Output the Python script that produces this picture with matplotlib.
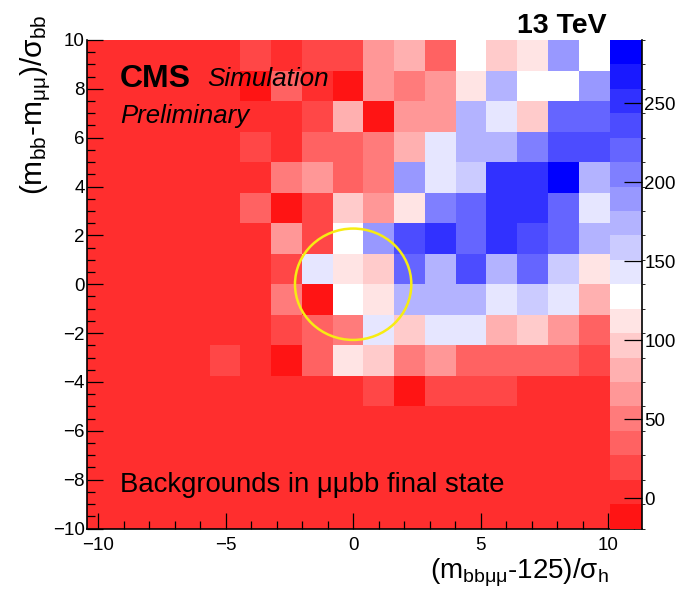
import numpy as np
import matplotlib.pyplot as plt
from matplotlib.colors import LinearSegmentedColormap, ListedColormap, BoundaryNorm
from matplotlib.patches import Circle
from matplotlib.ticker import MultipleLocator

plt.rcParams['font.family'] = ['Liberation Sans', 'DejaVu Sans']
plt.rcParams['mathtext.fontset'] = 'custom'
plt.rcParams['mathtext.rm'] = 'Liberation Sans'
plt.rcParams['mathtext.it'] = 'Liberation Sans:italic'
plt.rcParams['mathtext.bf'] = 'Liberation Sans:bold'

# ===============================
# Binning and palette range
# ===============================
x_lo, x_hi, n_xbins = -10.45, 10.05, 17
y_lo, y_hi, n_ybins = -10.0, 10.0, 16

z_min, z_max, n_levels = -19.0, 290.0, 20
z_ticks = [0, 50, 100, 150, 200, 250]

# bin contents, top row (y 8.75..10) first, columns left -> right
counts_rows = [
    [0, 0, 0, 0, 0, 20, 0, 20, 20, 66, 81, 35, 128, 97, 112, 190, 128],
    [0, 0, 0, 0, 0, -10, 30, 0, -10, 66, 50, 66, 112, 174, 128, 128, 190],
    [0, 0, 0, 0, 0, 0, 0, 20, 81, -10, 66, 66, 174, 143, 97, 220, 220],
    [0, 0, 0, 0, 0, 20, 0, 35, 35, 50, 81, 143, 174, 174, 205, 236, 236],
    [0, 0, 0, 0, 0, 0, 50, 66, 35, 50, 190, 143, 159, 251, 251, 282, 174],
    [0, 0, 0, 0, 0, 35, -10, 20, 97, 66, 112, 205, 220, 251, 251, 220, 143],
    [0, 0, 0, 0, 0, 0, 66, 20, 128, 190, 236, 251, 220, 251, 236, 220, 174],
    [0, 0, 0, 0, 0, 0, 20, 143, 112, 97, 220, 174, 236, 174, 220, 159, 112],
    [0, 0, 0, 0, 0, 0, 50, -10, 128, 112, 174, 174, 174, 143, 159, 143, 81],
    [0, 0, 0, 0, 0, 0, 20, 35, 50, 143, 97, 143, 143, 81, 97, 66, 35],
    [0, 0, 0, 0, 25, 0, -10, 35, 112, 97, 50, 66, 35, 35, 35, 35, 20],
    [0, 0, 0, 0, 0, 0, 0, 0, 0, 20, -10, 20, 20, 20, 0, 0, 0],
    [0] * 17,
    [0] * 17,
    [0] * 17,
    [0] * 17,
]

# signal region circle
circle_center = (0.0, 0.0)
circle_radius = 2.28

# ===============================
# Colours: red -> white -> blue, 20 levels
# ===============================
base = LinearSegmentedColormap.from_list(
    "rwb", [(0.0, (1.0, 0.08, 0.08)), (9 / 19, (1.0, 1.0, 1.0)), (1.0, (0.0, 0.0, 1.0))])
cmap = ListedColormap(base(np.linspace(0, 1, n_levels)))
levels = np.linspace(z_min, z_max, n_levels + 1)
norm = BoundaryNorm(levels, n_levels)

x_edges = np.linspace(x_lo, x_hi, n_xbins + 1)
y_edges = np.linspace(y_lo, y_hi, n_ybins + 1)
z = np.array(counts_rows, dtype=float)[::-1]

# ===============================
# Figure
# ===============================
W, H = 696, 593
fig = plt.figure(figsize=(W / 100, H / 100), dpi=100)

ax_left, ax_right, ax_top, ax_bot = 87.3, 641.7, 40.0, 528.5
ax = fig.add_axes([ax_left / W, 1 - ax_bot / H, (ax_right - ax_left) / W, (ax_bot - ax_top) / H])

mesh = ax.pcolormesh(x_edges, y_edges, z, cmap=cmap, norm=norm, antialiased=False, linewidth=0)
ax.add_patch(Circle(circle_center, circle_radius, fill=False, edgecolor="#f7ec12", lw=1.8, zorder=3))

ax.set_xlim(-10.42, 11.31)
ax.set_ylim(-10, 10)
ax.xaxis.set_major_locator(MultipleLocator(5))
ax.xaxis.set_minor_locator(MultipleLocator(1))
ax.yaxis.set_major_locator(MultipleLocator(2))
ax.yaxis.set_minor_locator(MultipleLocator(0.5))
ax.tick_params(which="both", direction="in", top=False, right=False, width=0.9, color="k")
ax.tick_params(which="major", length=11.5)
ax.tick_params(which="minor", length=6)
ax.tick_params(axis="x", labelsize=13.5, pad=6)
ax.tick_params(axis="y", labelsize=13.5, pad=2)
for s in ["top", "right"]:
    ax.spines[s].set_visible(False)
for s in ["left", "bottom"]:
    ax.spines[s].set_linewidth(1.2)

# palette drawn over the right end of the frame
cax = fig.add_axes([609.5 / W, 1 - ax_bot / H, (ax_right - 609.5) / W, (ax_bot - ax_top) / H])
cb = fig.colorbar(mesh, cax=cax, ticks=z_ticks)
cb.outline.set_visible(False)
cax.spines["right"].set_visible(True)
cax.spines["right"].set_linewidth(1.2)
cax.tick_params(direction="in", length=13, width=0.9, labelsize=13.5, pad=2)

# ===============================
# Texts
# ===============================
fig.text(120 / W, 1 - 87 / H, "CMS", weight="bold", size=23, va="baseline")
fig.text(207 / W, 1 - 86 / H, "Simulation", style="italic", size=18.8, va="baseline")
fig.text(120 / W, 1 - 123 / H, "Preliminary", style="italic", size=18.5, va="baseline")
fig.text(607 / W, 1 - 32.7 / H, "13 TeV", weight="bold", size=20.5, ha="right", va="baseline")
fig.text(120 / W, 1 - 492 / H, "Backgrounds in \u03bc\u03bcbb final state", size=19.8, va="baseline")

fig.text(609 / W, 1 - 573 / H, r"$\mathrm{(m_{bb\mu\mu}}$-$\mathrm{125)/\sigma_{h}}$",
         ha="right", va="center", size=20)
fig.text(36 / W, 1 - 15 / H, r"$\mathrm{(m_{bb}}$-$\mathrm{m_{\mu\mu})/\sigma_{bb}}$",
         rotation=90, ha="center", va="top", size=21.5)

plt.savefig("out.png", dpi=100)
